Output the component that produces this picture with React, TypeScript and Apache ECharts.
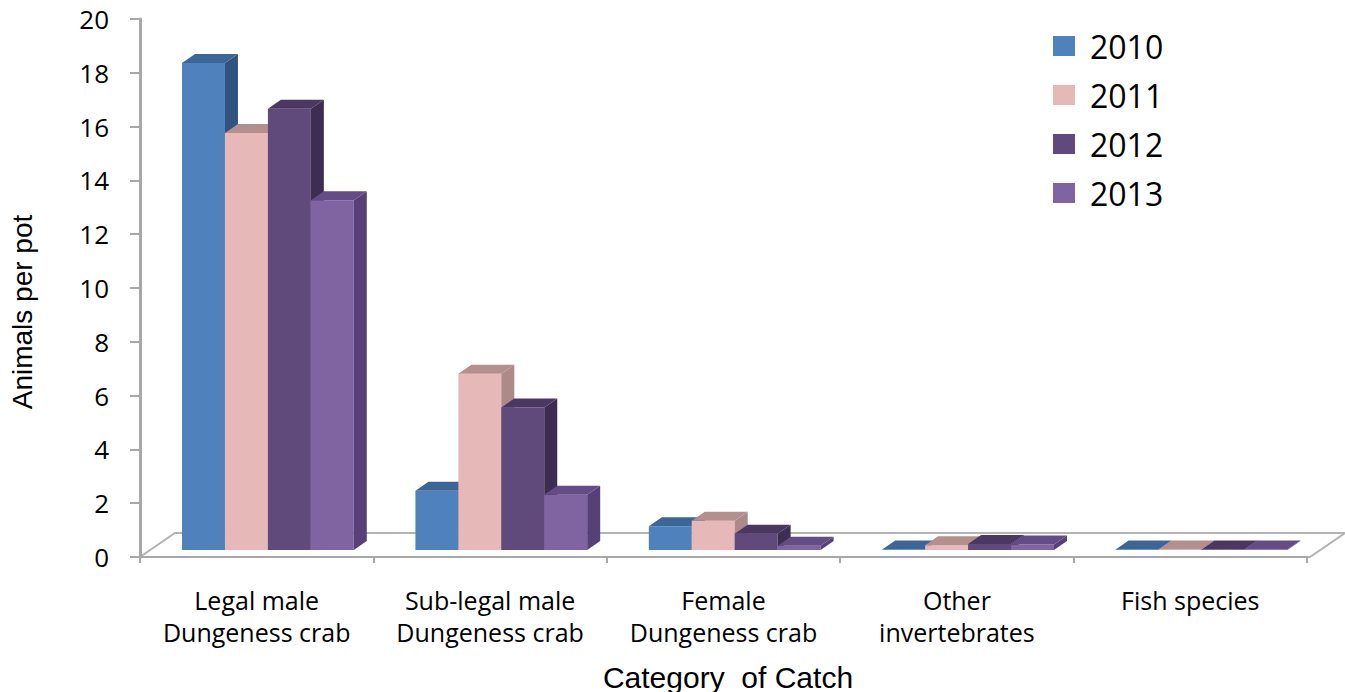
import React, { useEffect, useRef } from "react";
import * as echarts from "echarts";

const categories = [
  "Legal male\nDungeness crab",
  "Sub-legal male\nDungeness crab",
  "Female\nDungeness crab",
  "Other\ninvertebrates",
  "Fish species",
];
const years = ["2010", "2011", "2012", "2013"];
const v2010 = [18.1, 2.2, 0.88, 0.02, 0.02];
const v2011 = [15.5, 6.55, 1.09, 0.18, 0.02];
const v2012 = [16.4, 5.3, 0.6, 0.22, 0.02];
const v2013 = [13.0, 2.05, 0.16, 0.2, 0.02];
const seriesValues = [v2010, v2011, v2012, v2013];
const yTicks = ["0", "2", "4", "6", "8", "10", "12", "14", "16", "18", "20"];

const frontColors = ["#4f81bd", "#e6b9b8", "#604a7b", "#8064a2"];
const topColors = ["#3d6698", "#b48f8d", "#4a3862", "#644c86"];
const sideColors = ["#30527e", "#ad8988", "#3e2d52", "#574078"];

const DX = 13;
const DY = -9;
const LIFT = 7;

function makeBarRender(si: number) {
  return (params: any, api: any) => {
    const c = api.value(0);
    const v = api.value(1);
    const bw = api.size([1, 0])[0];
    const p0 = api.coord([c, 0]);
    const p1 = api.coord([c, v]);
    const w = bw * 0.184;
    const x0 = p0[0] - bw / 2 + bw * 0.18 + si * w;
    const yb = p0[1] - LIFT;
    const yt = p1[1] - LIFT;
    return {
      type: "group",
      children: [
        {
          type: "rect",
          shape: { x: x0, y: yt, width: w, height: yb - yt },
          style: { fill: frontColors[si] },
        },
        {
          type: "polygon",
          shape: {
            points: [
              [x0 + w, yt],
              [x0 + w, yb],
              [x0 + w + DX, yb + DY],
              [x0 + w + DX, yt + DY],
            ],
          },
          style: { fill: sideColors[si] },
        },
        {
          type: "polygon",
          shape: {
            points: [
              [x0, yt],
              [x0 + w, yt],
              [x0 + w + DX, yt + DY],
              [x0 + DX, yt + DY],
            ],
          },
          style: { fill: topColors[si] },
        },
      ],
    };
  };
}

function floorRender(params: any, api: any) {
  const cs = params.coordSys;
  const y0 = api.coord([0, 0])[1];
  const l = cs.x;
  const r = cs.x + cs.width + 3;
  const fdx = 35;
  const fdy = -24;
  return {
    type: "polygon",
    shape: {
      points: [
        [l, y0],
        [r, y0],
        [r + fdx, y0 + fdy],
        [l + fdx, y0 + fdy],
      ],
    },
    style: { fill: "#ffffff", stroke: "#b4b4b4", lineWidth: 2 },
  };
}

export default function App() {
  const ref = useRef<HTMLDivElement>(null);
  useEffect(() => {
    if (!ref.current) return;
    const chart = echarts.init(ref.current, null, { renderer: "svg" });
    const series: any[] = [
      {
        name: "floor",
        type: "custom",
        renderItem: floorRender,
        data: [[0, 0]],
        silent: true,
        clip: false,
        z: 1,
      },
    ];
    years.forEach((y, si) => {
      series.push({
        name: y,
        type: "custom",
        renderItem: makeBarRender(si),
        data: seriesValues[si].map((v, i) => [i, v]),
        itemStyle: { color: frontColors[si] },
        clip: false,
        z: 2,
      });
    });
    chart.setOption({
      animation: false,
      backgroundColor: "#ffffff",
      grid: { left: 140, right: 38, top: 19, bottom: 135, containLabel: false },
      legend: {
        data: years,
        orient: "vertical",
        left: 1053,
        top: 30,
        padding: 0,
        itemWidth: 22,
        itemHeight: 20,
        itemGap: 17,
        icon: "rect",
        textStyle: {
          fontFamily: "Open Sans",
          fontSize: 32,
          lineHeight: 32,
          color: "#000",
          padding: [0, 0, 0, 10],
        },
      },
      xAxis: {
        type: "category",
        data: categories,
        boundaryGap: true,
        axisLine: { show: true, lineStyle: { color: "#a8a8a8", width: 2 } },
        axisTick: { show: true, length: 6, lineStyle: { color: "#a8a8a8", width: 2 } },
        axisLabel: {
          margin: 27,
          fontFamily: "Open Sans",
          fontSize: 25,
          lineHeight: 32,
          color: "#000",
          interval: 0,
        },
        splitLine: { show: false },
        z: 5,
      },
      yAxis: {
        type: "value",
        min: 0,
        max: 20,
        interval: 2,
        axisLine: { show: true, onZero: false, lineStyle: { color: "#a8a8a8", width: 3 } },
        axisTick: { show: true, length: 10, lineStyle: { color: "#a8a8a8", width: 2 } },
        axisLabel: {
          margin: 31,
          fontFamily: "Open Sans",
          fontSize: 26,
          color: "#000",
          padding: [5, 0, 0, 0],
          formatter: (val: number) => yTicks[Math.round(val / 2)],
        },
        splitLine: { show: false },
        z: 5,
      },
      graphic: [
        {
          type: "text",
          x: 728,
          y: 677,
          style: {
            text: "Category  of Catch",
            fontFamily: "Liberation Sans",
            fontSize: 30,
            fill: "#000",
            textAlign: "center",
            textVerticalAlign: "middle",
          },
        },
        {
          type: "text",
          x: 22,
          y: 312,
          rotation: Math.PI / 2,
          style: {
            text: "Animals per pot",
            fontFamily: "Liberation Sans",
            fontSize: 28,
            fill: "#000",
            textAlign: "center",
            textVerticalAlign: "middle",
          },
        },
      ],
      series,
    });
    return () => chart.dispose();
  }, []);
  return (
    <div
      ref={ref}
      style={{ position: "fixed", left: 0, top: 0, width: 1345, height: 692 }}
    />
  );
}
